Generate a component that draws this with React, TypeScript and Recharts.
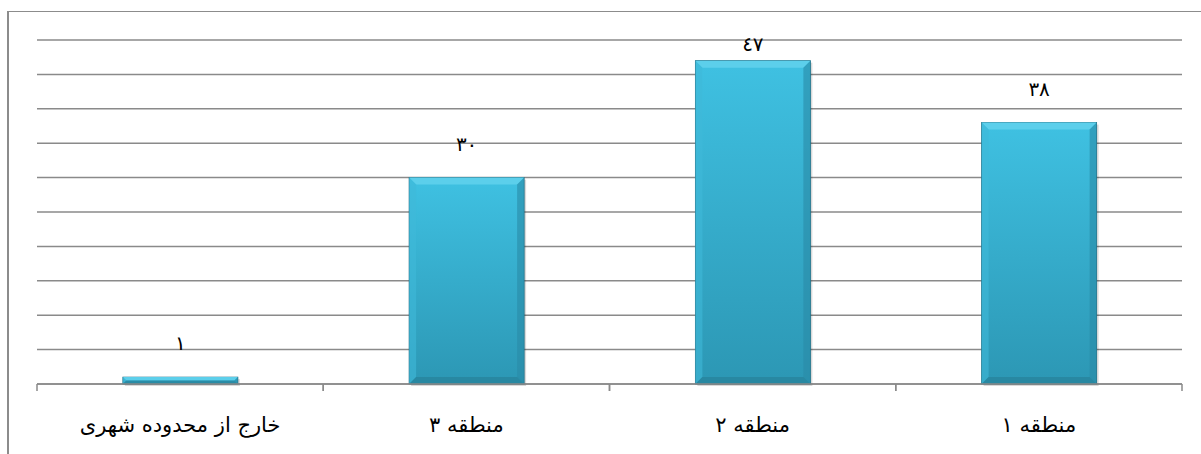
import React from 'react';
import { BarChart, Bar, XAxis, YAxis, CartesianGrid, LabelList } from 'recharts';

// regions, right to left as in the original
const regions = ['منطقه ۱', 'منطقه ۲', 'منطقه ۳', 'خارج از محدوده شهری'];
const counts = [38, 47, 30, 1];
const yTicks = [0, 5, 10, 15, 20, 25, 30, 35, 40, 45, 50];

const data = regions.map((name, i) => ({ name, count: counts[i] }));

const GRID = '#8a8a8a';
const FONT = '"DejaVu Sans", sans-serif';

const toArabicDigits = (n: number) =>
    String(n).replace(/[0-9]/g, (d) => '٠١٢٣٤٥٦٧٨٩'[Number(d)]);

const BevelBar = (props: any) => {
    const { x, y, width, height } = props;
    if (!height || height <= 0) return null;
    const b = Math.min(7, height / 2);
    return (
        <g>
            <rect x={x + 2} y={y + 2} width={width} height={height} fill="rgba(0,0,0,0.15)" />
            <rect x={x} y={y} width={width} height={height} fill="url(#barGrad)" stroke="#1d6a80" strokeWidth={0.8} />
            <polygon points={`${x},${y} ${x + width},${y} ${x + width - b},${y + b} ${x + b},${y + b}`} fill="#5ccfeb" />
            <polygon points={`${x},${y} ${x + b},${y + b} ${x + b},${y + height - b} ${x},${y + height}`} fill="#3fb9d8" opacity={0.6} />
            <polygon points={`${x + width},${y} ${x + width - b},${y + b} ${x + width - b},${y + height - b} ${x + width},${y + height}`} fill="#2a8ba6" opacity={0.6} />
            <polygon points={`${x},${y + height} ${x + b},${y + height - b} ${x + width - b},${y + height - b} ${x + width},${y + height}`} fill="#27819a" opacity={0.7} />
        </g>
    );
};

const ValueLabel = (props: any) => {
    const { x, y, width, value } = props;
    return (
        <text
            x={x + width / 2}
            y={Math.max(y - 27, 51)}
            textAnchor="middle"
            fontSize={20}
            fontFamily={FONT}
            fill="#000"
        >
            {toArabicDigits(value)}
        </text>
    );
};

// category label plus the tick marks on both edges of its band
const EdgeTick = (props: any) => {
    const { x, y, payload, width, visibleTicksCount } = props;
    const band = width / visibleTicksCount;
    return (
        <g>
            <line x1={x - band / 2} y1={y} x2={x - band / 2} y2={y + 7} stroke={GRID} strokeWidth={1.5} />
            <line x1={x + band / 2} y1={y} x2={x + band / 2} y2={y + 7} stroke={GRID} strokeWidth={1.5} />
            <text x={x} y={y + 48} textAnchor="middle" fontSize={21} fontFamily={FONT} fill="#000">
                {payload.value}
            </text>
        </g>
    );
};

export default function App() {
    return (
        <div style={{ position: 'absolute', left: 0, top: 0, width: 1201, height: 454, background: '#fff', overflow: 'hidden' }}>
            <div style={{
                position: 'absolute',
                left: 7,
                top: 11,
                width: 1200,
                height: 450,
                borderLeft: '2px solid #8c8c8c',
                borderTop: '1px solid #8c8c8c'
            }} />
            <div style={{ position: 'absolute', left: 0, top: 0 }}>
                <BarChart
                    width={1201}
                    height={454}
                    data={data}
                    margin={{ top: 40, right: 19, left: 37, bottom: 0 }}
                    barCategoryGap="30%"
                >
                    <defs>
                        <linearGradient id="barGrad" x1="0" y1="0" x2="0" y2="1">
                            <stop offset="0%" stopColor="#3fc1e2" />
                            <stop offset="100%" stopColor="#2c97b4" />
                        </linearGradient>
                    </defs>
                    <CartesianGrid vertical={false} stroke={GRID} strokeWidth={1.5} />
                    <XAxis
                        dataKey="name"
                        reversed
                        height={70}
                        axisLine={{ stroke: GRID, strokeWidth: 1.5 }}
                        tickLine={false}
                        tickSize={0}
                        tickMargin={0}
                        interval={0}
                        tick={<EdgeTick />}
                    />
                    <YAxis hide domain={[0, 50]} ticks={yTicks} />
                    <Bar dataKey="count" shape={<BevelBar />} isAnimationActive={false}>
                        <LabelList dataKey="count" content={<ValueLabel />} />
                    </Bar>
                </BarChart>
            </div>
        </div>
    );
}
